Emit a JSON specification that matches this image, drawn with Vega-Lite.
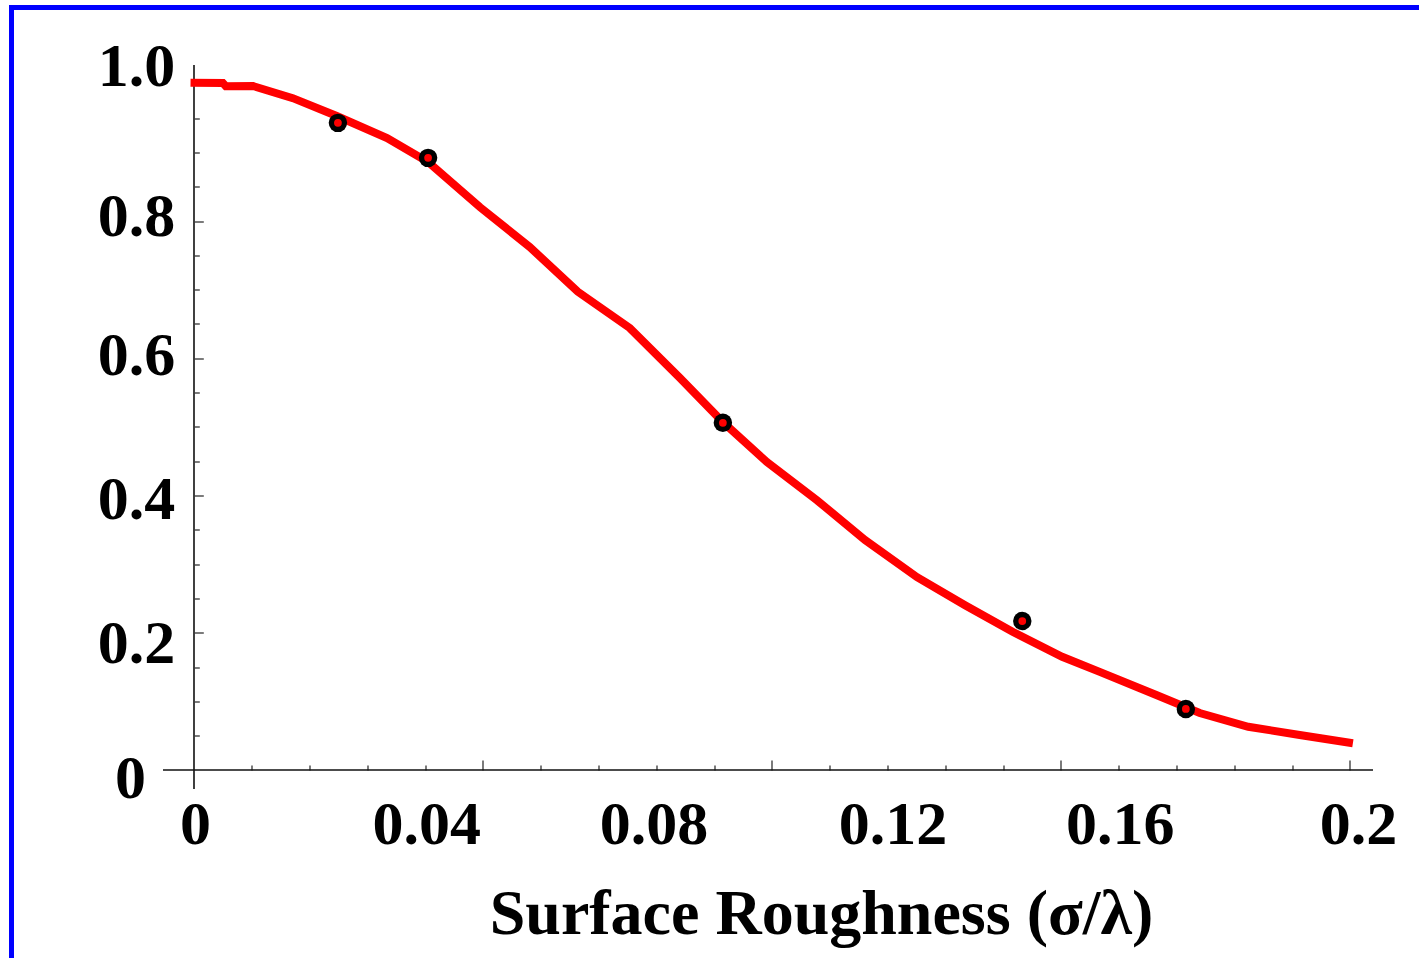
{
  "$schema": "https://vega.github.io/schema/vega-lite/v6.json",
  "width": 1407.5,
  "height": 950.5,
  "autosize": {"type": "none"},
  "padding": {"left": 11.5, "top": 7.5, "right": 0, "bottom": 0},
  "background": "white",
  "config": {
    "view": {"stroke": "#0000ff", "strokeWidth": 5, "strokeDash": [1407.5, 2358, 950.5, 10], "strokeCap": "square"},
    "axis": {"grid": false}
  },
  "datasets": {
    "curve": [
      {"roughness": -0.0006, "ratio": 1.0015},
      {"roughness": 0.005, "ratio": 1.001},
      {"roughness": 0.0055, "ratio": 0.9965},
      {"roughness": 0.0102, "ratio": 0.9967},
      {"roughness": 0.0171, "ratio": 0.979},
      {"roughness": 0.0247, "ratio": 0.953},
      {"roughness": 0.0334, "ratio": 0.921},
      {"roughness": 0.0405, "ratio": 0.886},
      {"roughness": 0.0495, "ratio": 0.82},
      {"roughness": 0.0581, "ratio": 0.762},
      {"roughness": 0.0664, "ratio": 0.697},
      {"roughness": 0.0754, "ratio": 0.644},
      {"roughness": 0.0841, "ratio": 0.571},
      {"roughness": 0.0915, "ratio": 0.507},
      {"roughness": 0.0991, "ratio": 0.449},
      {"roughness": 0.1078, "ratio": 0.393},
      {"roughness": 0.1161, "ratio": 0.335},
      {"roughness": 0.1251, "ratio": 0.281},
      {"roughness": 0.1334, "ratio": 0.24},
      {"roughness": 0.1417, "ratio": 0.201},
      {"roughness": 0.1502, "ratio": 0.165},
      {"roughness": 0.1567, "ratio": 0.143},
      {"roughness": 0.1666, "ratio": 0.109},
      {"roughness": 0.174, "ratio": 0.083},
      {"roughness": 0.1824, "ratio": 0.063},
      {"roughness": 0.1913, "ratio": 0.051},
      {"roughness": 0.2005, "ratio": 0.039}
    ],
    "measured": [
      {"roughness": 0.0249, "ratio": 0.943},
      {"roughness": 0.0405, "ratio": 0.892},
      {"roughness": 0.0915, "ratio": 0.506},
      {"roughness": 0.1433, "ratio": 0.217},
      {"roughness": 0.1716, "ratio": 0.089}
    ]
  },
  "resolve": {"axis": {"x": "independent", "y": "independent"}},
  "layer": [
    {
      "data": {"values": [{"line": "x axis"}]},
      "mark": {"type": "rule", "color": "#111111", "strokeWidth": 1.6},
      "encoding": {
        "x": {"datum": -0.005363, "type": "quantitative", "scale": {"domain": [-0.031574, 0.211938], "nice": false, "zero": false}, "axis": null},
        "x2": {"datum": 0.203979},
        "y": {"datum": 0, "type": "quantitative", "scale": {"domain": [-0.273952, 1.111111], "nice": false, "zero": false}, "axis": null}
      }
    },
    {
      "data": {"values": [{"line": "y axis"}]},
      "mark": {"type": "rule", "color": "#111111", "strokeWidth": 1.6},
      "encoding": {
        "x": {"datum": 0, "type": "quantitative", "scale": {"domain": [-0.031574, 0.211938], "nice": false, "zero": false}, "axis": null},
        "y": {"datum": -0.02769, "type": "quantitative", "scale": {"domain": [-0.273952, 1.111111], "nice": false, "zero": false}, "axis": null},
        "y2": {"datum": 1.027322}
      }
    },
    {
      "data": {"name": "curve"},
      "mark": {"type": "line", "color": "#ff0000", "strokeWidth": 8},
      "encoding": {
        "x": {
          "field": "roughness", "type": "quantitative",
          "scale": {"domain": [-0.031574, 0.211938], "nice": false, "zero": false},
          "axis": {
            "orient": "bottom", "offset": -188,
            "values": [0, 0.04, 0.08, 0.12, 0.16, 0.2], "format": "~g",
            "ticks": false, "domain": false,
            "labelFont": "Liberation Serif", "labelFontWeight": "bold", "labelFontSize": 62, "labelColor": "#000000",
            "labelBaseline": "alphabetic", "labelPadding": 73, "labelFlush": false, "labelOverlap": false,
            "labelOffset": {"condition": [{"test": "datum.value >= 0.19", "value": 8}, {"test": "datum.value > 0.11 && datum.value < 0.13", "value": 5}, {"test": "datum.value > 0.07 && datum.value < 0.09", "value": -3}], "value": 1},
            "title": "Surface Roughness (σ/λ)",
            "titleFont": "Liberation Serif", "titleFontWeight": "bold", "titleFontSize": 64, "titleColor": "#000000",
            "titleX": 809.5, "titleY": 163, "titleBaseline": "alphabetic", "titleAlign": "center"
          }
        },
        "y": {
          "field": "ratio", "type": "quantitative",
          "scale": {"domain": [-0.273952, 1.111111], "nice": false, "zero": false},
          "axis": {
            "orient": "left", "offset": -182.5,
            "values": [0, 0.2, 0.4, 0.6, 0.8, 1],
            "labelExpr": "datum.value == 0 ? '0' : format(datum.value, '.1f')",
            "ticks": false, "domain": false,
            "labelFont": "Liberation Serif", "labelFontWeight": "bold", "labelFontSize": 62, "labelColor": "#000000",
            "labelAlign": "center", "labelBaseline": "middle",
            "labelPadding": {"condition": {"test": "datum.value == 0", "value": 64}, "value": 58},
            "labelOffset": {"condition": [{"test": "datum.value > 0.9", "value": -17}, {"test": "datum.value > 0.7", "value": -5}, {"test": "datum.value > 0.5", "value": -3}, {"test": "datum.value > 0.3", "value": 4}, {"test": "datum.value > 0.1", "value": 11}], "value": 8},
            "labelFlush": false, "labelOverlap": false,
            "title": null
          }
        }
      }
    },
    {
      "data": {"name": "measured"},
      "mark": {"type": "circle", "color": "#000000", "size": 340, "opacity": 1},
      "encoding": {
        "x": {
          "field": "roughness", "type": "quantitative",
          "scale": {"domain": [-0.031574, 0.211938], "nice": false, "zero": false},
          "axis": {
            "orient": "top", "offset": -762.5,
            "values": [0.05, 0.1, 0.15, 0.2],
            "labels": false, "domain": false,
            "tickSize": 10, "tickColor": "#333333", "tickWidth": 1.3,
            "title": null
          }
        },
        "y": {
          "field": "ratio", "type": "quantitative",
          "scale": {"domain": [-0.273952, 1.111111], "nice": false, "zero": false},
          "axis": {
            "orient": "right", "offset": -1224.7,
            "values": [0.2, 0.4, 0.6, 0.8, 1],
            "labels": false, "domain": false,
            "tickSize": 9, "tickColor": "#333333", "tickWidth": 1.3,
            "title": null
          }
        }
      }
    },
    {
      "data": {"name": "measured"},
      "mark": {"type": "circle", "color": "#ff0000", "size": 60, "opacity": 1},
      "encoding": {
        "x": {
          "field": "roughness", "type": "quantitative",
          "scale": {"domain": [-0.031574, 0.211938], "nice": false, "zero": false},
          "axis": {
            "orient": "top", "offset": -762.5,
            "values": [0.01, 0.02, 0.03, 0.04, 0.06, 0.07, 0.08, 0.09, 0.11, 0.12, 0.13, 0.14, 0.16, 0.17, 0.18, 0.19],
            "labels": false, "domain": false,
            "tickSize": 5, "tickColor": "#333333", "tickWidth": 1.3,
            "title": null
          }
        },
        "y": {
          "field": "ratio", "type": "quantitative",
          "scale": {"domain": [-0.273952, 1.111111], "nice": false, "zero": false},
          "axis": {
            "orient": "right", "offset": -1224.7,
            "values": [0.05, 0.1, 0.15, 0.25, 0.3, 0.35, 0.45, 0.5, 0.55, 0.65, 0.7, 0.75, 0.85, 0.9, 0.95],
            "labels": false, "domain": false,
            "tickSize": 5, "tickColor": "#333333", "tickWidth": 1.3,
            "title": null
          }
        }
      }
    }
  ]
}
